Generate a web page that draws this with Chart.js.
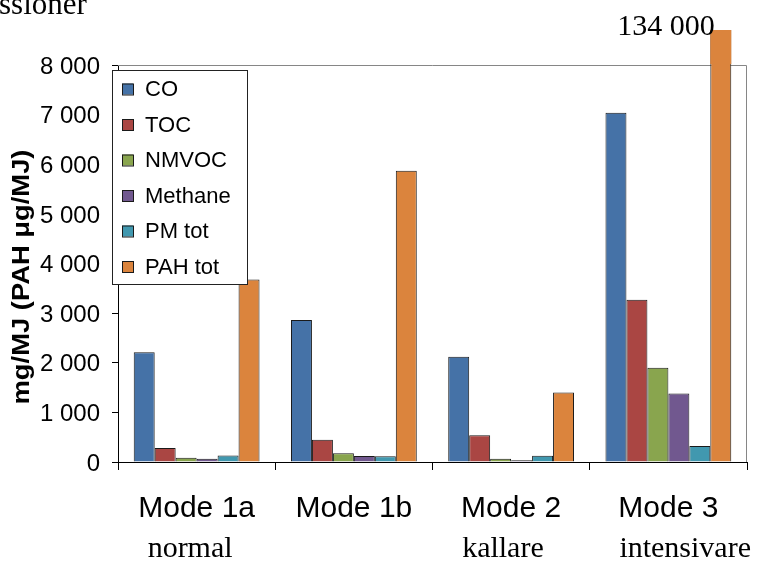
<!DOCTYPE html>
<html lang="sv">
<head>
<meta charset="UTF-8">
<title>Emissioner</title>
<script src="https://cdn.jsdelivr.net/npm/chart.js"></script>
<style>
    body { margin: 0; background: #fff; }
    canvas { display: block; }
</style>
</head>
<body>
<canvas id="chart" width="770" height="563"></canvas>
<script>
// categories and sub captions under them
const modes = ['Mode 1a', 'Mode 1b', 'Mode 2', 'Mode 3'];
const modeNotes = ['normal', '', 'kallare', 'intensivare'];

// series (mg/MJ, PAH in µg/MJ)
const seriesNames = ['CO', 'TOC', 'NMVOC', 'Methane', 'PM tot', 'PAH tot'];
const coValues = [2210, 2860, 2120, 7040];
const tocValues = [280, 450, 540, 3270];
const nmvocValues = [85, 175, 65, 1900];
const methaneValues = [65, 120, 35, 1380];
const pmValues = [130, 115, 125, 320];
const pahValues = [3680, 5870, 1400, 134000];

const yTicks = [0, 1000, 2000, 3000, 4000, 5000, 6000, 7000, 8000];
const seriesColors = ['#4572A7', '#AA4643', '#89A54E', '#71588F', '#4198AF', '#DB843D'];

const SANS = '"Liberation Sans", Arial, sans-serif';
const SERIF = '"Liberation Serif", "Times New Roman", serif';
const OVERFLOW = 35; // px a clipped bar may stick out above the plot

function fmt(v) {
    return String(v).replace(/\B(?=(\d{3})+(?!\d))/g, ' ');
}

const allValues = [coValues, tocValues, nmvocValues, methaneValues, pmValues, pahValues];
const datasets = seriesNames.map((name, i) => ({
    label: name,
    data: allValues[i],
    backgroundColor: seriesColors[i],
    borderColor: '#1a1a1a',
    borderWidth: 1,
    categoryPercentage: 0.8,
    barPercentage: 1.0,
    clip: { left: 0, top: OVERFLOW, right: 0, bottom: 0 }
}));

const extras = {
    id: 'extras',
    beforeDatasetsDraw(chart) {
        const { ctx, chartArea: a } = chart;
        ctx.save();
        ctx.strokeStyle = '#868686';
        ctx.lineWidth = 1;
        ctx.beginPath();
        ctx.moveTo(a.left, a.top + 0.5);
        ctx.lineTo(a.right - 0.5, a.top + 0.5);
        ctx.lineTo(a.right - 0.5, a.bottom);
        ctx.stroke();
        ctx.restore();
    },
    afterDatasetsDraw(chart) {
        const { ctx, chartArea: a } = chart;
        const yScale = chart.scales.y;
        ctx.save();
        chart.data.datasets.forEach((ds, di) => {
            const meta = chart.getDatasetMeta(di);
            ds.data.forEach((v, j) => {
                if (v <= yScale.max) return;
                const bar = meta.data[j];
                // part above the plot is drawn without outline
                ctx.fillStyle = ds.backgroundColor;
                ctx.fillRect(bar.x - bar.width / 2, a.top - OVERFLOW, bar.width, OVERFLOW - 1);
                ctx.font = '30px ' + SERIF;
                ctx.fillStyle = '#000';
                ctx.textAlign = 'right';
                ctx.textBaseline = 'alphabetic';
                ctx.fillText(fmt(v), bar.x - 6, a.top - 30);
            });
        });
        ctx.restore();
    },
    afterDraw(chart) {
        const { ctx, chartArea: a } = chart;
        const xScale = chart.scales.x;
        ctx.save();

        // legend box inside the plot
        const lx = a.left - 6, ly = a.top + 5, lw = 135, lh = 214;
        ctx.fillStyle = '#fff';
        ctx.fillRect(lx, ly, lw, lh);
        ctx.strokeStyle = '#222';
        ctx.lineWidth = 1;
        ctx.strokeRect(lx + 0.5, ly + 0.5, lw, lh);
        ctx.font = '22px ' + SANS;
        ctx.textAlign = 'left';
        ctx.textBaseline = 'middle';
        chart.data.datasets.forEach((ds, i) => {
            const cy = ly + 19 + i * 35.5;
            ctx.fillStyle = ds.backgroundColor;
            ctx.fillRect(lx + 10, cy - 5.5, 11, 11);
            ctx.strokeStyle = '#1a1a1a';
            ctx.strokeRect(lx + 10.5, cy - 5, 11, 11);
            ctx.fillStyle = '#000';
            ctx.fillText(ds.label, lx + 33, cy + 1);
        });

        // second caption line under the categories
        ctx.font = '30px ' + SERIF;
        ctx.textBaseline = 'alphabetic';
        ctx.textAlign = 'left';
        modeNotes.forEach((note, i) => {
            if (!note) return;
            ctx.fillText(note, xScale.getPixelForValue(i) - 49, 557);
        });

        // y axis title
        ctx.save();
        ctx.translate(23, 277);
        ctx.rotate(-Math.PI / 2);
        ctx.scale(1.19, 1);
        ctx.font = 'bold 23px ' + SANS;
        ctx.textAlign = 'center';
        ctx.textBaseline = 'middle';
        ctx.fillText('mg/MJ (PAH \u03bcg/MJ)', 0, 0);
        ctx.restore();

        // tail of the cut off title
        ctx.font = '31px ' + SERIF;
        ctx.textAlign = 'left';
        ctx.textBaseline = 'alphabetic';
        ctx.fillText('ssioner', -1, 14);

        ctx.restore();
    }
};

new Chart(document.getElementById('chart'), {
    type: 'bar',
    data: { labels: modes, datasets: datasets },
    options: {
        responsive: false,
        devicePixelRatio: 1,
        animation: false,
        layout: { padding: { top: 65, right: 23, left: 0, bottom: 0 } },
        plugins: {
            legend: { display: false },
            tooltip: { enabled: false }
        },
        scales: {
            x: {
                grid: {
                    offset: true,
                    drawOnChartArea: false,
                    tickLength: 8,
                    color: '#000'
                },
                border: { color: '#000', width: 1 },
                ticks: {
                    color: '#000',
                    padding: 21,
                    maxRotation: 0,
                    font: { family: SANS, size: 30 }
                },
                afterFit(scale) { scale.height = 101; }
            },
            y: {
                min: 0,
                max: yTicks[yTicks.length - 1],
                afterBuildTicks(scale) {
                    scale.ticks = yTicks.map(v => ({ value: v }));
                },
                grid: {
                    drawOnChartArea: false,
                    tickLength: 6,
                    color: '#000'
                },
                border: { color: '#000', width: 1 },
                ticks: {
                    color: '#000',
                    padding: 12,
                    labelOffset: 2,
                    font: { family: SANS, size: 24 },
                    callback: v => fmt(v)
                },
                afterFit(scale) { scale.width = 118; }
            }
        }
    },
    plugins: [extras]
});
</script>
</body>
</html>
